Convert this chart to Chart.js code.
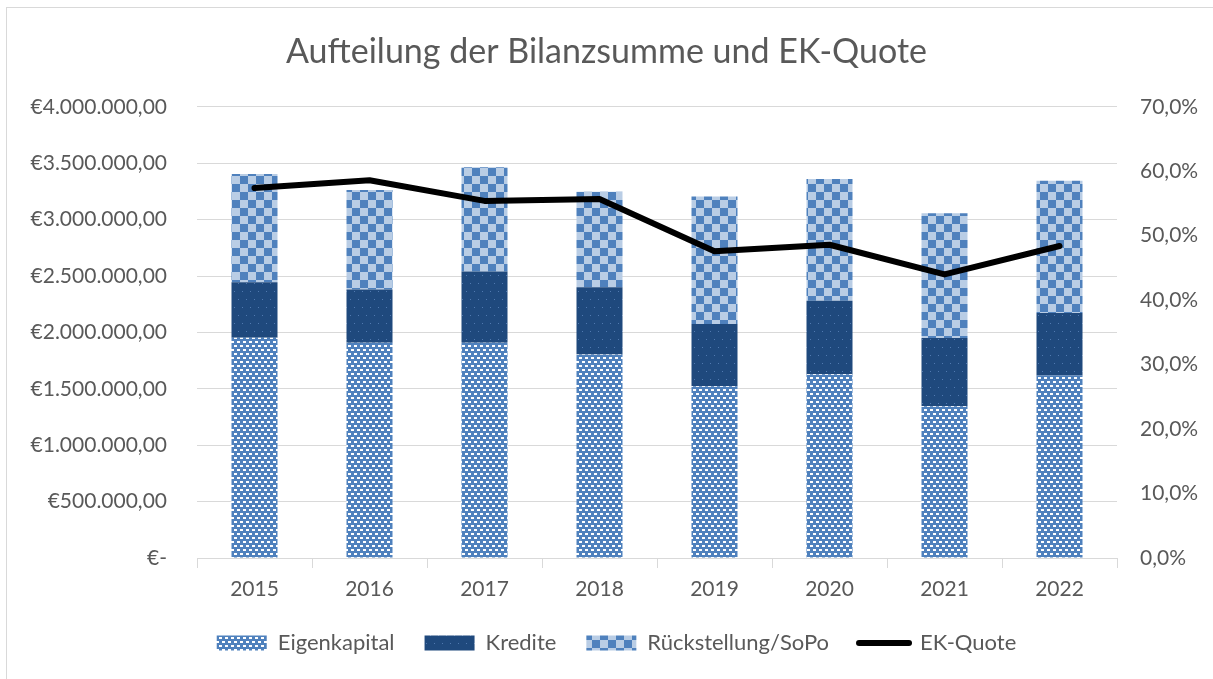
<!DOCTYPE html>
<html>
<head>
<meta charset="utf-8">
<script src="https://cdn.jsdelivr.net/npm/chart.js@4/dist/chart.umd.min.js"></script>
<style>
    html, body { margin: 0; padding: 0; background: #fff; }
    #frame { position: absolute; left: 6px; top: 7px; width: 1300px; height: 800px; border: 1px solid #d9d9d9; }
    #chart { position: absolute; left: 0; top: 0; }
</style>
</head>
<body>
<div id="frame"></div>
<canvas id="chart" width="1213" height="679"></canvas>
<script>
// Bilanzdaten je Jahr
const jahre = ["2015", "2016", "2017", "2018", "2019", "2020", "2021", "2022"];
const eigenkapital = [1953000, 1909000, 1909000, 1805000, 1522000, 1628000, 1346000, 1619000];
const kredite = [492000, 472000, 631000, 596000, 552000, 653000, 604000, 552000];
const rueckstellung = [959000, 882000, 923000, 847000, 1130000, 1079000, 1106000, 1174000];
const ekQuote = [57.4, 58.6, 55.4, 55.7, 47.6, 48.6, 44.0, 48.4];

const textColor = "#595959";
const gridColor = "#d9d9d9";
const fontFamily = "Lato, 'Open Sans', sans-serif";

// Muster wie in Excel
function makePattern(w, h, draw) {
    const c = document.createElement("canvas");
    c.width = w;
    c.height = h;
    draw(c.getContext("2d"));
    return c.getContext("2d").createPattern(c, "repeat");
}

const ctx = document.getElementById("chart").getContext("2d");

const ekPattern = makePattern(6, 8, (g) => {
    g.fillStyle = "#4f81bd";
    g.fillRect(0, 0, 6, 8);
    g.fillStyle = "#ffffff";
    g.fillRect(0, 1, 3, 2);
    g.fillRect(3, 5, 3, 2);
});
const kreditPattern = makePattern(8, 16, (g) => {
    g.fillStyle = "#1f497d";
    g.fillRect(0, 0, 8, 16);
    g.fillStyle = "#5079b0";
    g.fillRect(2, 3, 1, 1);
    g.fillRect(6, 11, 1, 1);
});
const rueckPattern = makePattern(16, 16, (g) => {
    g.fillStyle = "#b9cde5";
    g.fillRect(0, 0, 16, 16);
    g.fillStyle = "#4f81bd";
    g.fillRect(0, 0, 8, 8);
    g.fillRect(8, 8, 8, 8);
});

function euro(v) {
    if (v === 0) return "€-";
    const s = Math.round(v).toString().replace(/\B(?=(\d{3})+(?!\d))/g, ".");
    return "€" + s + ",00";
}

// Legende etwas nach rechts schieben
const legendShift = {
    id: "legendShift",
    afterLayout(chart) {
        chart.legend.left += 10;
        chart.legend.right += 10;
    },
};

new Chart(ctx, {
    type: "bar",
    data: {
        labels: jahre,
        datasets: [
            { label: "Eigenkapital", data: eigenkapital, backgroundColor: ekPattern, stack: "s", order: 1 },
            { label: "Kredite", data: kredite, backgroundColor: kreditPattern, stack: "s", order: 1 },
            { label: "Rückstellung/SoPo", data: rueckstellung, backgroundColor: rueckPattern, stack: "s", order: 1 },
            {
                type: "line",
                label: "EK-Quote",
                data: ekQuote,
                yAxisID: "y1",
                borderColor: "#000000",
                backgroundColor: "#000000",
                borderWidth: 6,
                borderCapStyle: "round",
                borderJoinStyle: "round",
                pointRadius: 0,
                tension: 0,
                order: 0,
            },
        ],
    },
    plugins: [legendShift],
    options: {
        responsive: false,
        animation: false,
        events: [],
        layout: { padding: { top: 0, bottom: 19, left: 0, right: 0 } },
        datasets: { bar: { categoryPercentage: 1, barPercentage: 0.4 } },
        plugins: {
            tooltip: { enabled: false },
            title: {
                display: true,
                text: "Aufteilung der Bilanzsumme und EK-Quote",
                color: textColor,
                font: { family: fontFamily, size: 34, weight: "normal" },
                padding: { top: 32, bottom: 34 },
            },
            legend: {
                position: "bottom",
                maxHeight: 58,
                labels: {
                    color: textColor,
                    font: { family: fontFamily, size: 22 },
                    usePointStyle: true,
                    pointStyleWidth: 50,
                    boxHeight: 15,
                    padding: 30,
                    generateLabels: (chart) =>
                        chart.data.datasets.map((ds, i) => ({
                            text: ds.label,
                            fillStyle: ds.type === "line" ? "#000" : ds.backgroundColor,
                            strokeStyle: "#000",
                            lineWidth: ds.type === "line" ? 6 : 0,
                            lineCap: "round",
                            pointStyle: ds.type === "line" ? "line" : "rect",
                            fontColor: textColor,
                            datasetIndex: i,
                            hidden: false,
                        })),
                },
            },
        },
        scales: {
            x: {
                stacked: true,
                grid: { offset: true, drawOnChartArea: false, tickLength: 10, color: gridColor },
                border: { color: gridColor },
                ticks: { color: textColor, font: { family: fontFamily, size: 21 }, padding: 9 },
                afterFit: (s) => { s.height = 44; },
            },
            y: {
                stacked: true,
                min: 0,
                max: 4000000,
                ticks: {
                    stepSize: 500000,
                    color: textColor,
                    font: { family: fontFamily, size: 21 },
                    padding: 30,
                    callback: (v) => euro(v),
                },
                grid: { color: gridColor, drawTicks: false },
                border: { display: false },
                afterFit: (s) => { s.width = 197; },
            },
            y1: {
                position: "right",
                min: 0,
                max: 70,
                ticks: {
                    stepSize: 10,
                    color: textColor,
                    font: { family: fontFamily, size: 21 },
                    padding: 23,
                    callback: (v) => v.toFixed(1).replace(".", ",") + "%",
                },
                grid: { display: false, drawTicks: false },
                border: { display: false },
                afterFit: (s) => { s.width = 96; },
            },
        },
    },
});
</script>
</body>
</html>
